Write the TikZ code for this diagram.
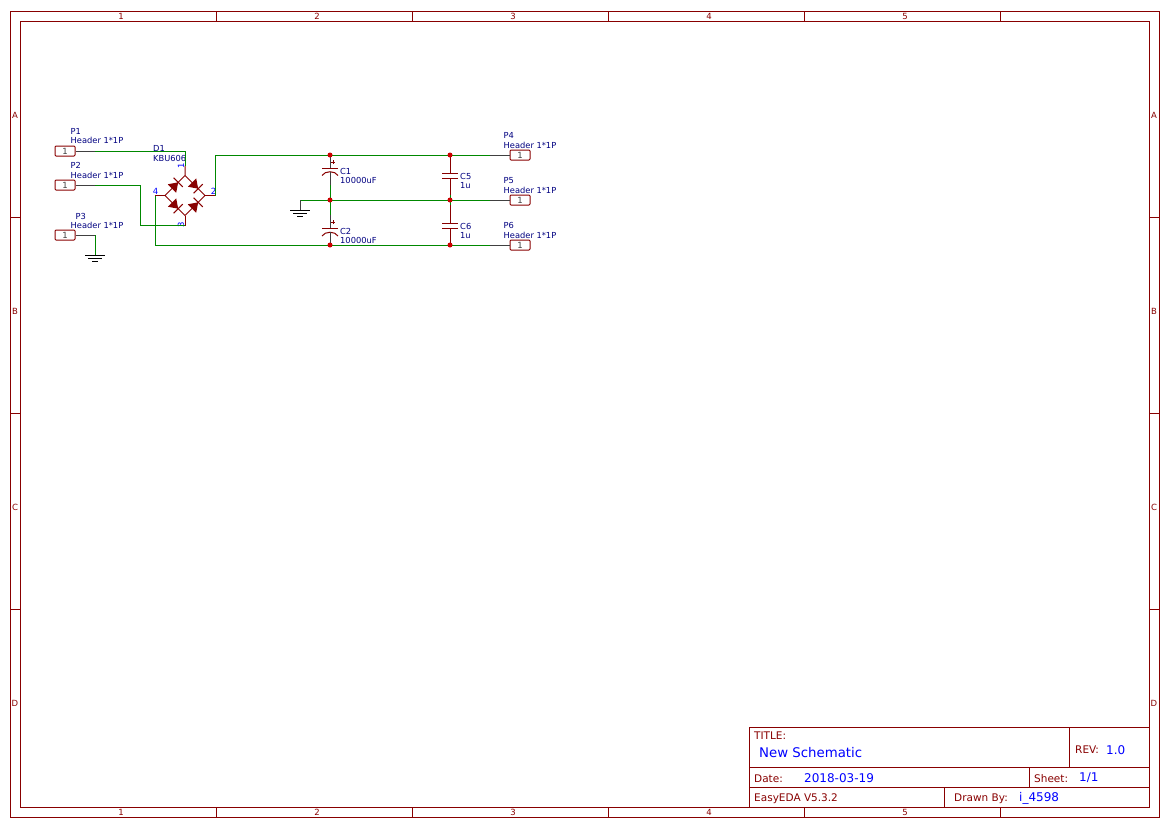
\documentclass[tikz,border=0pt]{standalone}
\usepackage{fontspec}
\setmainfont{DejaVu Sans}
\definecolor{sheetred}{HTML}{880000}
\definecolor{wiregreen}{HTML}{008800}
\definecolor{partblue}{HTML}{000080}
\definecolor{pinblue}{HTML}{0000FF}
\tikzset{
  sheetline/.style={draw=sheetred,line width=1pt},
  wire/.style={draw=wiregreen,line width=1pt},
  lead/.style={draw=sheetred,line width=1pt},
  blacklead/.style={draw=black!75,line width=1pt},
  plate/.style={draw=sheetred,line width=1pt},
  gndline/.style={draw=black,line width=1pt},
  header/.style={draw=sheetred,line width=1pt,rounded corners=1pt,minimum width=20pt,minimum height=10pt,inner sep=0pt,font=\fontsize{8.5}{9}\selectfont,text=black!75},
  tick/.style={text=sheetred,font=\fontsize{8.5}{9}\selectfont,inner sep=0pt},
  field/.style={text=sheetred,font=\fontsize{10.5}{11}\selectfont,inner sep=0pt,anchor=west},
  value/.style={text=pinblue,font=\fontsize{12}{13}\selectfont,inner sep=0pt,anchor=west},
  part/.style={text=partblue,font=\fontsize{8.3}{9}\selectfont,inner sep=0pt,anchor=west,yshift=-0.5pt},
  pinno/.style={text=pinblue,font=\fontsize{8.5}{9}\selectfont,inner sep=0pt},
  dot/.style={circle,fill=red!80!black,inner sep=0pt,minimum size=5pt},
}
\begin{document}
\begin{tikzpicture}[x=1pt,y=-1pt]
  \useasboundingbox (0,0) rectangle (1169,828);
  % sheet frame
  \draw [sheetline] (10,11) rectangle (1159,817);
  \draw [sheetline] (20,21) rectangle (1149,807);
  \foreach \x in {216,412,608,804,1000} {
    \draw [sheetline] (\x,11)--(\x,21);
    \draw [sheetline] (\x,807)--(\x,817);
  }
  \foreach \y in {217,413,609} {
    \draw [sheetline] (10,\y)--(20,\y);
    \draw [sheetline] (1149,\y)--(1159,\y);
  }
  \foreach \x/\n in {121/1,317/2,513/3,709/4,905/5} {
    \node [tick] (top\n) at (\x,16.5) {\n};
    \node [tick] (bot\n) at (\x,812.5) {\n};
  }
  \foreach \y/\n in {115.5/A,311.5/B,507.5/C,703.5/D} {
    \node [tick] (left\n) at (15,\y) {\n};
    \node [tick] (right\n) at (1154,\y) {\n};
  }
  % title block
  \draw [sheetline] (749,727) rectangle (1149,807);
  \draw [sheetline] (749,767)--(1149,767);
  \draw [sheetline] (749,787)--(1149,787);
  \draw [sheetline] (1069,727)--(1069,767);
  \draw [sheetline] (1029,767)--(1029,787);
  \draw [sheetline] (944,787)--(944,807);
  \node [field] (title) at (754,735.5) {TITLE:};
  \node [value,font=\fontsize{13.3}{14}\selectfont] (name) at (759,753) {New Schematic};
  \node [field] (rev) at (1075,750) {REV:};
  \node [value] (revno) at (1106,750) {1.0};
  \node [field] (date) at (754,778.5) {Date:};
  \node [value] (dateval) at (804,778) {2018-03-19};
  \node [field] (sheet) at (1034,778.5) {Sheet:};
  \node [value] (sheetval) at (1079,778) {1/1};
  \node [field] (eda) at (754,798.5) {EasyEDA V5.3.2};
  \node [field] (drawn) at (954,798.5) {Drawn By:};
  \node [value] (drawnval) at (1019,798) {i\_4598};
  % headers
  \foreach \n/\x/\y in {P1/65/151,P2/65/185,P3/65/235,P4/520/155,P5/520/200,P6/520/245}
    \node [header] (\n) at (\x,\y) {1};
  \node [part] (lP1) at (70.5,131) {P1};
  \node [part] (vP1) at (70.5,140) {Header 1*1P};
  \node [part] (lP2) at (70.5,165) {P2};
  \node [part] (vP2) at (70.5,174.5) {Header 1*1P};
  \node [part] (lP3) at (75.5,215.5) {P3};
  \node [part] (vP3) at (70.5,224.5) {Header 1*1P};
  \node [part] (lP4) at (503.5,135) {P4};
  \node [part] (vP4) at (503.5,144.5) {Header 1*1P};
  \node [part] (lP5) at (503.5,180) {P5};
  \node [part] (vP5) at (503.5,189.5) {Header 1*1P};
  \node [part] (lP6) at (503.5,225) {P6};
  \node [part] (vP6) at (503.5,234.5) {Header 1*1P};
  % bridge
  \coordinate (top) at (185,175.5);
  \coordinate (bottom) at (185,215.5);
  \coordinate (west) at (165,195.5);
  \coordinate (east) at (205,195.5);
  \coordinate (pin1) at (185,165.5);
  \coordinate (pin3) at (185,225.5);
  \coordinate (pin4) at (155,195.5);
  \coordinate (pin2) at (215,195.5);
  \draw [lead] (pin1)--(top)--(east)--(bottom)--(west)--(top);
  \draw [lead] (pin3)--(bottom);
  \draw [lead] (pin4)--(west);
  \draw [lead] (pin2)--(east);
  \foreach \mx/\my/\dx/\dy in {175/185.5/1/-1,195/185.5/1/1,175/205.5/1/1,195/205.5/1/-1} {
    \fill [sheetred] ({\mx+3.2*\dx},{\my+3.2*\dy})
      --({\mx-3*\dx-4.2*\dy},{\my-3*\dy+4.2*\dx})
      --({\mx-3*\dx+4.2*\dy},{\my-3*\dy-4.2*\dx})--cycle;
    \draw [plate] ({\mx+3.2*\dx-4.6*\dy},{\my+3.2*\dy+4.6*\dx})
      --({\mx+3.2*\dx+4.6*\dy},{\my+3.2*\dy-4.6*\dx});
  }
  \node [part] (lD1) at (153,148) {D1};
  \node [part] (vD1) at (153,157.5) {KBU606};
  \node [pinno,rotate=90] (n1) at (181,166) {1};
  \node [pinno] (n2) at (213.5,191.5) {2};
  \node [pinno,rotate=90] (n3) at (181,225) {3};
  \node [pinno] (n4) at (155.5,191.5) {4};
  % capacitors
  \coordinate (c1a) at (330,168.3);
  \coordinate (c1b) at (330,172);
  \coordinate (c2a) at (330,228.3);
  \coordinate (c2b) at (330,232.3);
  \coordinate (c5a) at (450,173);
  \coordinate (c5b) at (450,178);
  \coordinate (c6a) at (450,223);
  \coordinate (c6b) at (450,228);
  \draw [plate] (322,168.3)--(338,168.3);
  \draw [plate] (322,175.5) .. controls (325,170.5) and (335,170.5) .. (338,175.5);
  \draw [plate] (322,228.3)--(338,228.3);
  \draw [plate] (322,236) .. controls (325,231) and (335,231) .. (338,236);
  \draw [plate] (442,173)--(458,173);
  \draw [plate] (442,178)--(458,178);
  \draw [plate] (442,223)--(458,223);
  \draw [plate] (442,228)--(458,228);
  \draw [plate] (331,162)--(335,162);
  \draw [plate] (333,160)--(333,164);
  \draw [plate] (331,222)--(335,222);
  \draw [plate] (333,220)--(333,224);
  \node [part] (lC1) at (340,170.5) {C1};
  \node [part] (vC1) at (340,179.5) {10000uF};
  \node [part] (lC2) at (340,230.5) {C2};
  \node [part] (vC2) at (340,239.5) {10000uF};
  \node [part] (lC5) at (460,175.5) {C5};
  \node [part] (vC5) at (460,185) {1u};
  \node [part] (lC6) at (460,225.5) {C6};
  \node [part] (vC6) at (460,235) {1u};
  % wires
  \coordinate (railtop) at (330,155);
  \coordinate (railmid) at (330,200);
  \coordinate (railbot) at (330,245);
  \coordinate (j5top) at (450,155);
  \coordinate (j5mid) at (450,200);
  \coordinate (j5bot) at (450,245);
  \coordinate (gndA) at (300,200);
  \coordinate (gndB) at (300,210);
  \coordinate (gndC) at (95,255);
  \coordinate (p1pin) at (95,151);
  \coordinate (p2pin) at (95,185);
  \coordinate (p3pin) at (95,235);
  \coordinate (p4pin) at (490,155);
  \coordinate (p5pin) at (490,200);
  \coordinate (p6pin) at (490,245);
  \draw [blacklead] (P1.east)--(p1pin);
  \draw [blacklead] (P2.east)--(p2pin);
  \draw [blacklead] (P3.east)--(p3pin);
  \draw [blacklead] (P4.west)--(p4pin);
  \draw [blacklead] (P5.west)--(p5pin);
  \draw [blacklead] (P6.west)--(p6pin);
  \draw [wire] (p1pin)-|(pin1);
  \draw [wire] (p2pin)--(140,185)--(140,225.5)--(pin3);
  \draw [wire] (p3pin)-|(gndC);
  \draw [wire] (pin2)--(215,155)--(railtop);
  \draw [wire] (pin4)--(155,245)--(railbot);
  \draw [wire] (railtop)--(p4pin);
  \draw [wire] (gndA)--(p5pin);
  \draw [wire] (railbot)--(p6pin);
  \draw [blacklead] (railtop)--(c1a);
  \draw [blacklead] (c1b)--(330,185);
  \draw [wire] (330,185)--(330,215);
  \draw [blacklead] (330,215)--(c2a);
  \draw [blacklead] (c2b)--(railbot);
  \draw [lead] (j5top)--(c5a);
  \draw [lead] (c5b)--(450,195);
  \draw [wire] (450,195)--(450,205);
  \draw [lead] (450,205)--(c6a);
  \draw [lead] (c6b)--(j5bot);
  \draw [blacklead] (gndA)--(gndB);
  \draw [gndline] (290,210)--(310,210);
  \draw [gndline] (293,213)--(307,213);
  \draw [gndline] (297,216)--(303,216);
  \draw [gndline] (85,255)--(105,255);
  \draw [gndline] (88,258)--(102,258);
  \draw [gndline] (92,261)--(98,261);
  \foreach \j in {railtop,railmid,railbot,j5top,j5mid,j5bot}
    \node [dot] (dot\j) at (\j) {};
\end{tikzpicture}
\end{document}
